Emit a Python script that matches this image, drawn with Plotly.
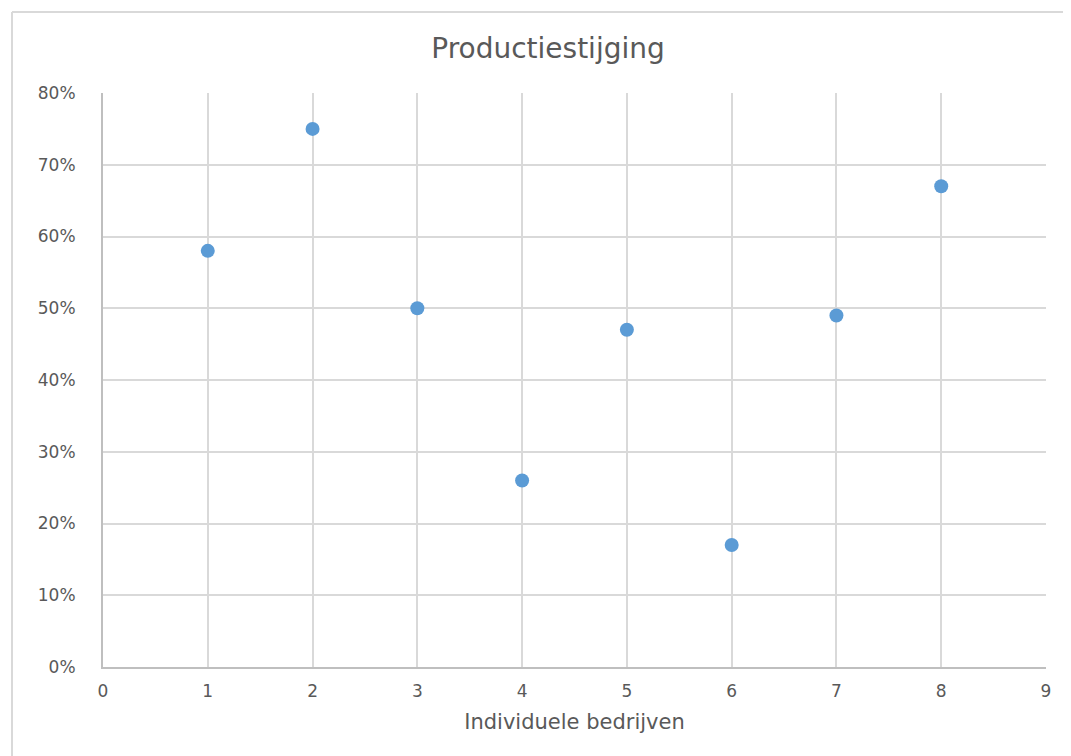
import plotly.graph_objects as go

bedrijf = [1, 2, 3, 4, 5, 6, 7, 8]
stijging = [0.58, 0.75, 0.50, 0.26, 0.47, 0.17, 0.49, 0.67]
x_ticks = list(range(0, 10))
y_ticks = [0, 0.1, 0.2, 0.3, 0.4, 0.5, 0.6, 0.7, 0.8]
y_labels = ["0%", "10%", "20%", "30%", "40%", "50%", "60%", "70%", "80%"]

font_family = "DejaVu Sans, Verdana, sans-serif"
txt = "#595959"
grid = "#d9d9d9"

# page body has an 8px margin: compensate so the plot lands where the reference has it
OFF = 8
W, H = 1071 - OFF, 756 - OFF
L, R, T, B = 103 - OFF, 25, 93 - OFF, 89
PW = 1071 - R - 103
PH = 667 - 93

fig = go.Figure()
fig.add_trace(go.Scatter(
    x=bedrijf, y=stijging, mode="markers",
    marker=dict(color="#5b9bd5", size=14, line=dict(width=0)),
    showlegend=False,
))

bx0 = (12 - 103) / PW
by1 = (667 - 12) / PH

fig.update_layout(
    width=W, height=H,
    margin=dict(l=L, r=R, t=T, b=B, pad=0),
    paper_bgcolor="white", plot_bgcolor="white",
    font=dict(family=font_family, color=txt),
    title=dict(text="Productiestijging", x=(548 - OFF) / W, xref="container", xanchor="center",
               y=1 - (48 - OFF) / H, yref="container", yanchor="middle",
               font=dict(size=28, color=txt, family=font_family)),
    xaxis=dict(range=[0, 9], tickvals=x_ticks, showgrid=True, gridcolor=grid, gridwidth=2,
               zeroline=False, showline=True, linecolor="#bfbfbf", linewidth=2,
               tickfont=dict(size=17, color=txt), ticks="", ticklabelstandoff=8,
               title=dict(text="Individuele bedrijven", font=dict(size=21, color=txt), standoff=14),
               fixedrange=True),
    yaxis=dict(range=[0, 0.8], tickvals=y_ticks, ticktext=y_labels, showgrid=True,
               gridcolor=grid, gridwidth=2, zeroline=False, showline=True,
               linecolor="#bfbfbf", linewidth=2, ticks="", ticklabelstandoff=22,
               tickfont=dict(size=17, color=txt), fixedrange=True),
    shapes=[
        dict(type="line", xref="paper", yref="paper", x0=bx0, x1=1.1, y0=by1, y1=by1,
             line=dict(color="#d9d9d9", width=2), layer="below"),
        dict(type="line", xref="paper", yref="paper", x0=bx0, x1=bx0, y0=-0.3, y1=by1,
             line=dict(color="#d9d9d9", width=2), layer="below"),
    ],
)

fig.write_html("out.html")
